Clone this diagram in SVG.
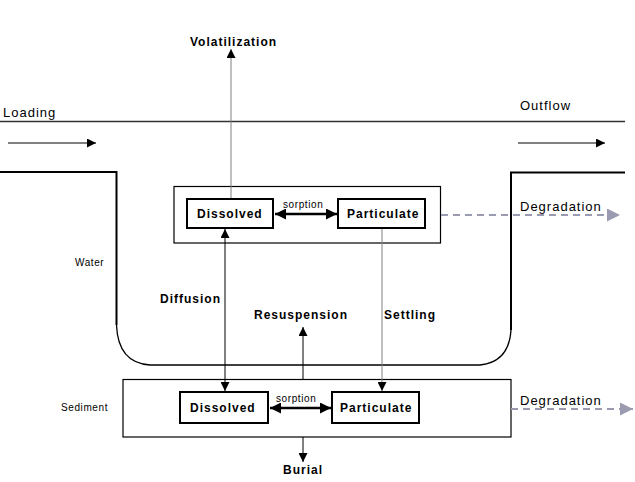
<svg xmlns="http://www.w3.org/2000/svg" width="635" height="482" viewBox="0 0 635 482">
<defs>
<style>
text{font-family:"Liberation Sans",Arial,sans-serif;fill:#000}
.b{font-size:12px;font-weight:bold;letter-spacing:1px}
.r{font-size:13px;letter-spacing:1px}
.s{font-size:10px;letter-spacing:0.6px}
.box{fill:#fff;stroke:#000;stroke-width:2}
.frame{fill:none;stroke:#000;stroke-width:1.2}
.ln{stroke:#000;stroke-width:1;fill:none}
.gl{stroke:#808080;stroke-width:1;fill:none}
.dg{stroke:#9a9ab0;stroke-width:2;stroke-dasharray:7,5;fill:none}
</style>
<marker id="a" viewBox="0 0 10 10" refX="10" refY="5" markerWidth="9" markerHeight="9" markerUnits="userSpaceOnUse" orient="auto-start-reverse"><path d="M0,0L10,5L0,10z" fill="#000"/></marker>
<marker id="as" viewBox="0 0 10 10" refX="10" refY="5" markerWidth="11" markerHeight="11" markerUnits="userSpaceOnUse" orient="auto-start-reverse"><path d="M0,0L10,5L0,10z" fill="#000"/></marker>
<marker id="ag" viewBox="0 0 10 10" refX="10" refY="5" markerWidth="15" markerHeight="13" markerUnits="userSpaceOnUse" orient="auto"><path d="M0,0L10,5L0,10z" fill="#9a9ab0"/></marker>
</defs>
<rect width="635" height="482" fill="#fff"/>
<g id="environment">
<line x1="0" y1="121.5" x2="625" y2="121.5" stroke="#333" stroke-width="1.5"/>
<path d="M0,172 H116.5 V325" fill="none" stroke="#000" stroke-width="2"/>
<path d="M116.5,325 Q118,363 150,365 H480 Q509,362 511,330" fill="none" stroke="#000" stroke-width="1.3"/>
<path d="M511,330 V172.5 H625" fill="none" stroke="#000" stroke-width="2"/>
<text x="3" y="117" class="r">Loading</text>
<text x="520" y="110" class="r">Outflow</text>
<text x="75" y="266" class="s">Water</text>
<text x="61" y="411" class="s">Sediment</text>
</g>
<g id="water-compartment"><rect x="174" y="186.5" width="266.5" height="56.5" class="frame" stroke="#444"/></g>
<g id="sediment-compartment"><rect x="123" y="379.5" width="388" height="57.5" class="frame" stroke-width="1.5"/></g>
<g id="connectors">
<line x1="8" y1="143" x2="96" y2="143" class="ln" marker-end="url(#a)"/>
<line x1="518" y1="143" x2="605" y2="143" class="ln" marker-end="url(#a)"/>
<line x1="231" y1="199" x2="231" y2="49" class="gl" marker-end="url(#a)"/>
<line x1="275" y1="214" x2="337" y2="214" stroke="#000" stroke-width="2.5" marker-start="url(#as)" marker-end="url(#as)"/>
<line x1="270" y1="408" x2="331" y2="408" stroke="#000" stroke-width="2.5" marker-start="url(#as)" marker-end="url(#as)"/>
<line x1="225" y1="229" x2="225" y2="391" class="ln" marker-start="url(#a)" marker-end="url(#a)"/>
<line x1="382" y1="228" x2="382" y2="391" class="gl" marker-end="url(#a)"/>
<line x1="303" y1="379" x2="303" y2="327" class="ln" marker-end="url(#a)"/>
<line x1="303" y1="437" x2="303" y2="462" class="ln" marker-end="url(#a)"/>
<line x1="441" y1="215" x2="620" y2="215" class="dg" marker-end="url(#ag)"/>
<line x1="511" y1="409" x2="633" y2="409" class="dg" marker-end="url(#ag)"/>
<text x="283" y="208" class="s">sorption</text>
<text x="276" y="402" class="s">sorption</text>
<text x="190" y="46" class="b">Volatilization</text>
<text x="160" y="303" class="b">Diffusion</text>
<text x="254" y="319" class="b">Resuspension</text>
<text x="384" y="319" class="b">Settling</text>
<text x="283" y="474" class="b">Burial</text>
<text x="520" y="211" class="r">Degradation</text>
<text x="520" y="405" class="r">Degradation</text>
</g>
<g id="water-dissolved"><rect x="187" y="199" width="86" height="29" class="box"/><text x="197" y="218" class="b">Dissolved</text></g>
<g id="water-particulate"><rect x="338" y="199" width="87" height="29" class="box"/><text x="347" y="218" class="b">Particulate</text></g>
<g id="sediment-dissolved"><rect x="180" y="392" width="88" height="31" class="box"/><text x="190" y="412" class="b">Dissolved</text></g>
<g id="sediment-particulate"><rect x="332" y="392" width="87" height="31" class="box"/><text x="340" y="412" class="b">Particulate</text></g>
</svg>
